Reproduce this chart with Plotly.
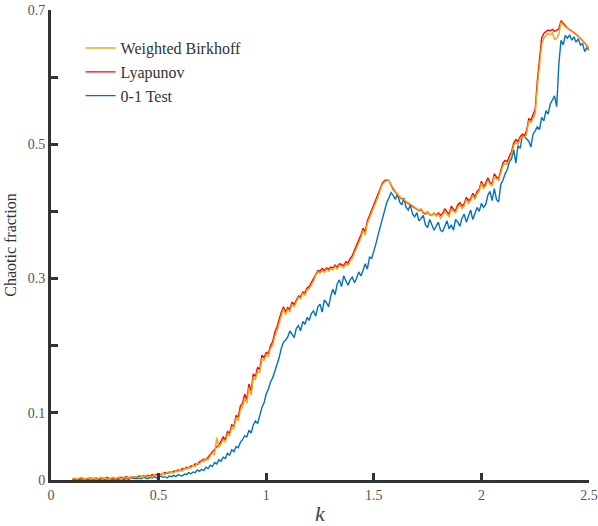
import plotly.graph_objects as go

# k grid 0.10 .. 2.50, step 0.01
k_values = [round(0.10 + 0.01 * i, 2) for i in range(241)]

birkhoff = [
    0.002,0.003,0.001,0.002,0.004,0.002,0.001,0.003,0.002,0.002,
    0.003,0.001,0.002,0.004,0.002,0.003,0.002,0.001,0.003,0.004,
    0.002,0.004,0.003,0.002,0.005,0.003,0.004,0.002,0.005,0.004,
    0.005,0.003,0.006,0.004,0.007,0.005,0.006,0.004,0.008,0.006,
    0.008,0.007,0.010,0.008,0.011,0.010,0.012,0.010,0.014,0.012,
    0.015,0.013,0.017,0.016,0.019,0.018,0.022,0.020,0.025,0.024,
    0.028,0.027,0.032,0.030,0.036,0.040,0.038,0.063,0.048,0.055,
    0.060,0.056,0.068,0.066,0.078,0.076,0.092,0.088,0.104,0.108,
    0.122,0.114,0.138,0.126,0.152,0.150,0.162,0.160,0.180,0.178,
    0.186,0.184,0.196,0.200,0.214,0.222,0.234,0.244,0.255,0.246,
    0.255,0.250,0.262,0.258,0.266,0.272,0.270,0.278,0.275,0.283,
    0.285,0.290,0.296,0.305,0.310,0.308,0.312,0.309,0.314,0.311,
    0.315,0.313,0.318,0.314,0.320,0.318,0.316,0.322,0.320,0.326,
    0.330,0.338,0.345,0.352,0.360,0.372,0.365,0.382,0.390,0.398,
    0.405,0.415,0.422,0.432,0.440,0.444,0.446,0.447,0.440,0.434,
    0.430,0.426,0.422,0.420,0.417,0.415,0.413,0.411,0.409,0.406,
    0.405,0.402,0.404,0.399,0.397,0.400,0.396,0.394,0.398,0.393,
    0.396,0.390,0.394,0.400,0.396,0.392,0.404,0.400,0.398,0.406,
    0.410,0.404,0.408,0.418,0.412,0.416,0.424,0.418,0.426,0.430,
    0.442,0.434,0.438,0.446,0.440,0.438,0.452,0.448,0.446,0.456,
    0.468,0.472,0.470,0.478,0.485,0.498,0.503,0.500,0.508,0.512,
    0.510,0.515,0.535,0.532,0.540,0.545,0.585,0.620,0.648,0.658,
    0.662,0.665,0.663,0.666,0.656,0.658,0.664,0.682,0.678,0.675,
    0.672,0.670,0.668,0.666,0.663,0.660,0.657,0.654,0.651,0.647,
    0.642,
]

lyapunov = [
    0.001,0.002,0.002,0.001,0.003,0.002,0.002,0.001,0.003,0.002,
    0.002,0.003,0.001,0.002,0.003,0.002,0.004,0.002,0.002,0.003,
    0.003,0.002,0.004,0.003,0.003,0.005,0.003,0.004,0.004,0.005,
    0.004,0.006,0.005,0.006,0.005,0.007,0.006,0.008,0.007,0.008,
    0.009,0.008,0.009,0.011,0.010,0.012,0.011,0.013,0.013,0.015,
    0.014,0.017,0.016,0.019,0.018,0.021,0.021,0.024,0.023,0.027,
    0.029,0.031,0.030,0.035,0.038,0.042,0.045,0.050,0.052,0.058,
    0.064,0.060,0.072,0.070,0.082,0.080,0.096,0.094,0.110,0.114,
    0.128,0.120,0.143,0.132,0.158,0.154,0.168,0.164,0.186,0.182,
    0.190,0.188,0.200,0.206,0.220,0.228,0.240,0.250,0.258,0.250,
    0.257,0.254,0.265,0.261,0.268,0.274,0.273,0.280,0.279,0.286,
    0.288,0.294,0.300,0.308,0.312,0.311,0.315,0.312,0.316,0.314,
    0.317,0.316,0.320,0.317,0.322,0.321,0.319,0.325,0.323,0.330,
    0.334,0.342,0.350,0.356,0.365,0.375,0.370,0.386,0.394,0.402,
    0.410,0.418,0.426,0.435,0.442,0.446,0.447,0.446,0.439,0.433,
    0.429,0.425,0.421,0.419,0.416,0.414,0.412,0.410,0.408,0.405,
    0.404,0.401,0.403,0.398,0.396,0.399,0.395,0.395,0.397,0.394,
    0.398,0.394,0.397,0.404,0.399,0.396,0.408,0.403,0.401,0.410,
    0.413,0.408,0.411,0.421,0.416,0.419,0.427,0.421,0.430,0.433,
    0.445,0.437,0.442,0.450,0.443,0.441,0.456,0.451,0.449,0.460,
    0.472,0.476,0.474,0.482,0.489,0.502,0.507,0.504,0.511,0.515,
    0.513,0.520,0.538,0.536,0.545,0.552,0.595,0.632,0.658,0.665,
    0.668,0.670,0.669,0.671,0.668,0.670,0.672,0.684,0.680,0.676,
    0.673,0.671,0.669,0.667,0.664,0.661,0.658,0.655,0.651,0.647,
    0.643,
]

zero_one_test = [
    0.000,0.000,0.001,0.000,0.000,0.001,0.000,0.000,0.001,0.000,
    0.000,0.001,0.000,0.001,0.000,0.000,0.001,0.001,0.000,0.001,
    0.001,0.000,0.002,0.001,0.001,0.002,0.001,0.002,0.003,0.002,
    0.002,0.003,0.002,0.004,0.003,0.002,0.004,0.003,0.005,0.003,
    0.004,0.006,0.004,0.005,0.003,0.006,0.005,0.007,0.005,0.008,
    0.007,0.006,0.009,0.008,0.011,0.009,0.012,0.011,0.015,0.013,
    0.016,0.014,0.019,0.017,0.022,0.020,0.026,0.024,0.030,0.028,
    0.034,0.032,0.040,0.037,0.045,0.042,0.050,0.048,0.056,0.060,
    0.066,0.064,0.074,0.070,0.082,0.088,0.084,0.098,0.108,0.115,
    0.128,0.135,0.146,0.152,0.162,0.170,0.182,0.196,0.205,0.208,
    0.213,0.222,0.216,0.212,0.226,0.230,0.222,0.236,0.232,0.242,
    0.238,0.248,0.252,0.244,0.258,0.262,0.250,0.268,0.264,0.258,
    0.274,0.284,0.276,0.292,0.298,0.288,0.304,0.296,0.290,0.298,
    0.302,0.294,0.300,0.310,0.304,0.312,0.322,0.314,0.332,0.330,
    0.340,0.352,0.365,0.378,0.390,0.402,0.413,0.420,0.428,0.424,
    0.418,0.426,0.414,0.410,0.420,0.406,0.402,0.410,0.396,0.392,
    0.398,0.386,0.390,0.394,0.380,0.376,0.388,0.380,0.372,0.378,
    0.384,0.372,0.370,0.378,0.386,0.374,0.380,0.372,0.388,0.384,
    0.378,0.390,0.396,0.384,0.392,0.402,0.388,0.396,0.406,0.400,
    0.412,0.406,0.410,0.424,0.430,0.416,0.434,0.418,0.414,0.440,
    0.446,0.456,0.462,0.474,0.478,0.492,0.472,0.498,0.494,0.512,
    0.512,0.508,0.505,0.496,0.515,0.520,0.526,0.522,0.540,0.535,
    0.550,0.545,0.560,0.566,0.572,0.556,0.620,0.655,0.648,0.662,
    0.658,0.663,0.655,0.660,0.652,0.657,0.648,0.650,0.638,0.644,
    0.640,
]

y_tick_vals = [0, 0.1, 0.2, 0.3, 0.4, 0.5, 0.6, 0.7]
y_tick_text = ["0", "0.1", "", "0.3", "", "0.5", "", "0.7"]
x_tick_vals = [0, 0.5, 1, 1.5, 2, 2.5]
x_tick_text = ["0", "0.5", "1", "1.5", "2", "2.5"]

FONT = "Liberation Serif"
AXIS_COLOR = "#333333"

fig = go.Figure()
fig.add_trace(go.Scatter(x=k_values, y=zero_one_test, mode="lines", name="0-1 Test",
                         line=dict(color="#0072BD", width=1.4), legendrank=3))
fig.add_trace(go.Scatter(x=k_values, y=lyapunov, mode="lines", name="Lyapunov",
                         line=dict(color="#FF0000", width=1.4), legendrank=2))
fig.add_trace(go.Scatter(x=k_values, y=birkhoff, mode="lines", name="Weighted Birkhoff",
                         line=dict(color="#F2A516", width=1.4), legendrank=1))

fig.update_layout(
    width=598, height=526,
    margin=dict(l=51, r=9, t=10, b=46),
    paper_bgcolor="white", plot_bgcolor="white",
    font=dict(family=FONT, size=14, color="#555555"),
    showlegend=True,
    legend=dict(x=0.055, y=0.955, xanchor="left", yanchor="top",
                bgcolor="rgba(0,0,0,0)", font=dict(family=FONT, size=16, color="#333333"),
                tracegroupgap=0, itemwidth=30),
)
fig.update_xaxes(
    range=[0, 2.5], tickvals=x_tick_vals, ticktext=x_tick_text, automargin=False,
    showgrid=False, zeroline=False, showline=True, linecolor=AXIS_COLOR, linewidth=3,
    ticks="inside", ticklen=7, tickwidth=2.5, tickcolor=AXIS_COLOR,
    tickfont=dict(family=FONT, size=14, color="#555555"),
    title=dict(text="<i>k</i>", font=dict(family=FONT, size=22, color="#444444"), standoff=8),
)
fig.update_yaxes(
    range=[0, 0.7], tickvals=y_tick_vals, ticktext=y_tick_text, automargin=False,
    showgrid=False, zeroline=False, showline=True, linecolor=AXIS_COLOR, linewidth=3,
    ticks="inside", ticklen=7, tickwidth=2.5, tickcolor=AXIS_COLOR,
    tickfont=dict(family=FONT, size=14, color="#555555"),
    title=dict(text="Chaotic fraction", font=dict(family=FONT, size=16, color="#333333"), standoff=8),
)

fig.write_html("out.html")
